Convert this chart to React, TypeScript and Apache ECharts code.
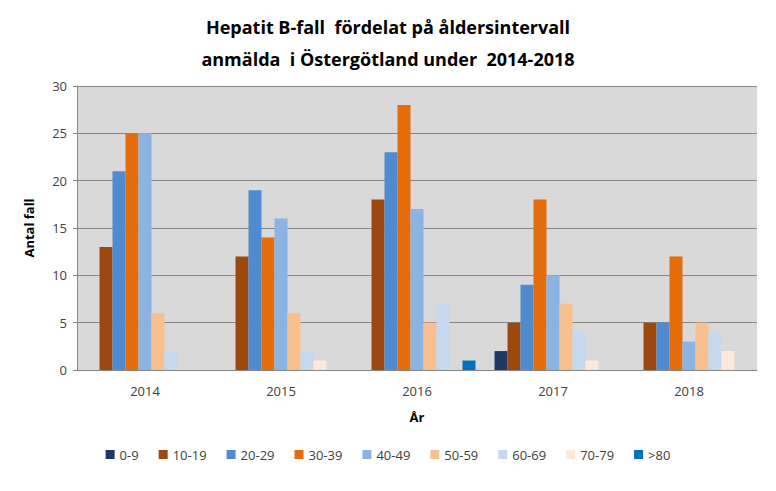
import React, { useEffect, useRef } from "react";
import * as echarts from "echarts";

const years = ["2014", "2015", "2016", "2017", "2018"];
const ageGroups = ["0-9", "10-19", "20-29", "30-39", "40-49", "50-59", "60-69", "70-79", ">80"];
const v0_9 = [0, 0, 0, 2, 0];
const v10_19 = [13, 12, 18, 5, 5];
const v20_29 = [21, 19, 23, 9, 5];
const v30_39 = [25, 14, 28, 18, 12];
const v40_49 = [25, 16, 17, 10, 3];
const v50_59 = [6, 6, 5, 7, 5];
const v60_69 = [2, 2, 7, 4, 4];
const v70_79 = [0, 1, 0, 1, 2];
const v80 = [0, 0, 1, 0, 0];
const colors = ["#1f3864", "#9c480f", "#4f8bd0", "#e46c0a", "#8db3e2", "#f9c08f", "#c6d9f1", "#fde9d9", "#0070c0"];

export default function App() {
  const ref = useRef<HTMLDivElement>(null);
  useEffect(() => {
    if (!ref.current) return;
    const chart = echarts.init(ref.current, null, { renderer: "svg" });
    const all = [v0_9, v10_19, v20_29, v30_39, v40_49, v50_59, v60_69, v70_79, v80];
    const font = "'Open Sans', 'Noto Sans', sans-serif";
    chart.setOption({
      animation: false,
      backgroundColor: "#ffffff",
      title: {
        text: "Hepatit B-fall  fördelat på åldersintervall\nanmälda  i Östergötland under  2014-2018",
        left: "center",
        top: 6,
        textStyle: { fontFamily: font, fontSize: 18, fontWeight: "bold", color: "#000", lineHeight: 32 },
      },
      legend: {
        bottom: 25,
        left: "center",
        itemWidth: 9,
        itemHeight: 9,
        itemGap: 20,
        icon: "rect",
        textStyle: { fontFamily: font, fontSize: 13, color: "#404040" },
        data: ageGroups,
      },
      grid: { left: 77, right: 19, top: 86, bottom: 121, backgroundColor: "#d9d9d9", show: true, borderWidth: 0 },
      xAxis: {
        type: "category",
        data: years,
        name: "År",
        nameLocation: "middle",
        nameGap: 40,
        nameTextStyle: { fontFamily: font, fontSize: 13, fontWeight: "bold", color: "#000" },
        axisLine: { show: true, lineStyle: { color: "#868686" } },
        axisTick: { show: false },
        axisLabel: { fontFamily: font, fontSize: 13, color: "#404040", margin: 14 },
      },
      yAxis: {
        type: "value",
        min: 0,
        max: 30,
        interval: 5,
        name: "Antal fall",
        nameLocation: "middle",
        nameGap: 42,
        nameTextStyle: { fontFamily: font, fontSize: 13, fontWeight: "bold", color: "#000" },
        axisLine: { show: true, lineStyle: { color: "#868686" } },
        axisTick: { show: true, length: 4, lineStyle: { color: "#868686" } },
        axisLabel: { fontFamily: font, fontSize: 13, color: "#404040", margin: 10 },
        splitLine: { lineStyle: { color: "#868686", width: 1 } },
      },
      series: ageGroups.map((g, i) => ({
        name: g,
        type: "bar",
        data: all[i],
        barGap: "0%",
        barCategoryGap: "14%",
        itemStyle: { color: colors[i] },
      })),
    });
    return () => chart.dispose();
  }, []);
  return <div ref={ref} style={{ width: 776, height: 491, position: "absolute", left: 0, top: 0 }} />;
}
